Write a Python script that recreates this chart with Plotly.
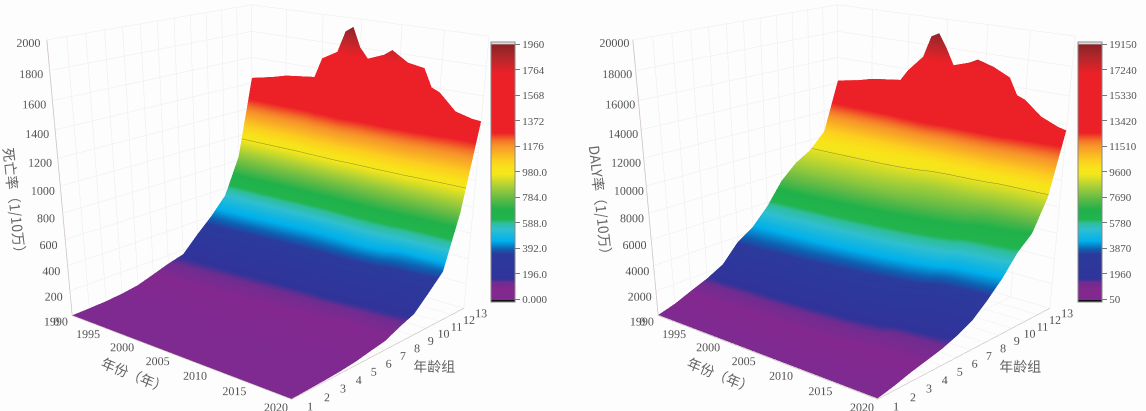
import plotly.graph_objects as go

YEARS = [1990,1993,1995,1999,2000,2002,2003,2004,2005,2006,2008,2009,2011,2013,2014,2015,2017,2019,2020]
AGES = list(range(1, 14))

DEATH = [
 [2,2,2,2,2,2,2,2,2,2,2,2,2,2,2,2,2,2,2],
 [6,6,6,6,6,6,6,6,6,6,5,5,5,5,5,5,5,5,5],
 [12,12,12,12,12,12,11,11,11,11,11,11,10,10,10,10,10,9,9],
 [25,25,24,24,24,23,23,23,22,22,21,21,20,19,18,18,17,16,16],
 [46,45,45,44,43,42,42,41,40,39,38,37,35,33,31,30,29,28,28],
 [88,86,84,80,78,76,75,74,72,70,68,66,64,60,57,56,54,52,50],
 [131,128,124,118,116,112,110,108,106,104,100,98,94,88,83,80,76,73,70],
 [165,165,163,160,158,156,154,152,150,148,146,145,142,136,132,130,128,125,123],
 [290,280,270,255,250,240,236,232,228,224,220,218,214,205,196,190,182,174,167],
 [405,400,392,380,375,368,364,360,358,355,352,350,345,330,315,308,298,288,278],
 [540,535,528,510,505,495,490,488,490,495,505,512,515,490,450,435,420,405,394],
 [830,825,820,810,808,805,805,805,806,808,810,812,815,812,806,804,802,800,800],
 [1440,1475,1505,1532,1680,1745,1900,1940,1800,1730,1775,1817,1745,1725,1600,1574,1461,1430,1425],
]

DALY = [
 [50,50,50,50,50,50,50,50,50,50,50,50,50,50,50,50,50,50,50],
 [440,435,430,420,415,410,405,400,395,390,385,380,370,360,350,345,340,335,330],
 [1000,980,960,930,920,900,890,880,870,860,840,830,800,770,740,730,720,705,690],
 [1520,1490,1460,1420,1400,1370,1350,1340,1320,1300,1270,1250,1200,1130,1060,1040,1020,990,970],
 [2200,2170,2130,2070,2040,1990,1960,1940,1910,1880,1820,1790,1700,1590,1450,1400,1350,1300,1260],
 [3580,3500,3400,3260,3200,3100,3050,3000,2960,2900,2800,2740,2600,2380,2120,2040,1900,1780,1700],
 [4400,4350,4280,4150,4100,3980,3920,3860,3800,3730,3600,3520,3340,3080,2750,2620,2480,2360,2280],
 [5700,5600,5500,5330,5270,5150,5080,5020,4950,4880,4750,4650,4450,4150,3800,3650,3500,3370,3280],
 [7400,7300,7150,6950,6870,6720,6650,6580,6500,6400,6200,6100,5850,5500,5100,4900,4750,4580,4430],
 [8500,8450,8380,8250,8200,8100,8020,7950,7850,7720,7500,7380,7150,6850,6500,6350,6200,6020,5880],
 [9200,9180,9150,9080,9050,8980,8900,8820,8700,8500,8350,8300,8200,7950,7650,7500,7300,7050,6850],
 [10400,10380,10350,10280,10250,10180,10100,10000,9900,9700,9600,9580,9550,9450,9300,9250,9200,9150,9100],
 [14200,14500,14800,15100,15900,17100,18650,18950,18000,16830,17200,17500,17150,16600,15450,15220,14250,13750,13600],
]

DEATH_TICKS = [0,196,392,588,784,980,1176,1372,1568,1764,1960]
DEATH_TICKTEXT = ["0.000","196.0","392.0","588.0","784.0","980.0","1176","1372","1568","1764","1960"]
DALY_TICKS = [50,1960,3870,5780,7690,9600,11510,13420,15330,17240,19150]
DALY_TICKTEXT = [str(v) for v in DALY_TICKS]
Z_TICKS_1 = list(range(0, 2001, 200))
Z_TICKS_2 = list(range(0, 20001, 2000))
YEAR_TICKS = [1990,1995,2000,2005,2010,2015,2020]

STOPS = [
 (0.000,"#111111"),(0.006,"#111111"),(0.0075,"#7e2a90"),(0.05,"#84288f"),(0.075,"#702c90"),
 (0.088,"#30349a"),(0.184,"#2c3a9c"),(0.203,"#0f5fb0"),(0.234,"#00b0ec"),(0.279,"#2fbfd0"),(0.304,"#2ebd9a"),
 (0.317,"#22b44e"),(0.355,"#20b14a"),(0.394,"#5cb947"),(0.444,"#a8cf38"),(0.49,"#f3e61c"),(0.515,"#f8e31a"),(0.545,"#fcce1f"),
 (0.60,"#f7952a"),(0.621,"#f37328"),(0.65,"#ec2127"),(0.878,"#ec2127"),(0.94,"#b3272b"),(0.99,"#8a2225"),(0.991,"#c8c8c8"),(1.0,"#f6f6f6"),
]
COLORSCALE = [[p, c] for p, c in STOPS]

FIG_H = 1400
SCENE_H = 950
SERIF = "Liberation Serif, Noto Serif CJK SC, serif"
CJK = "Noto Sans CJK SC, Liberation Serif"
INK = "#555555"

def axis(title, tickvals, rng, ticktext=None):
    return dict(
        title=dict(text=title, font=dict(family=CJK, size=14, color="#666666")),
        tickmode="array", tickvals=tickvals, ticktext=ticktext or [str(v) for v in tickvals], range=rng,
        tickfont=dict(family=SERIF, size=12, color=INK), tickangle=0,
        showgrid=True, gridcolor="#ececec", gridwidth=1,
        showline=True, linecolor="#c9bdb8", linewidth=1.5,
        showbackground=False, zeroline=False, showspikes=False,
        ticks="outside", ticklen=0,
    )

def panel(name, z, ztitle, zticks, zrange, ticks, ticktext, cmin, cmax, cbx, level, step, dom):
    trace = go.Surface(
        x=YEARS, y=AGES, z=z, scene=name, cmin=cmin, cmax=cmax, colorscale=COLORSCALE,
        lighting=dict(ambient=1, diffuse=0, specular=0, roughness=1, fresnel=0),
        contours=dict(z=dict(show=True, start=level, end=level + step, size=step * 4, color="#8a8a30", width=1)),
        hoverinfo="skip",
        colorbar=dict(x=cbx, xanchor="left", xref="paper", y=1 - 171.7 / FIG_H, yanchor="middle", yref="paper",
                      len=260, lenmode="pixels", thickness=24, thicknessmode="pixels",
                      tickmode="array", tickvals=ticks, ticktext=ticktext,
                      tickfont=dict(family=SERIF, size=11, color=INK),
                      ticks="outside", ticklen=5, tickcolor="#777777",
                      outlinecolor="#888888", outlinewidth=1, xpad=0, ypad=0),
    )
    scene = dict(
        domain=dict(x=dom, y=[1 - SCENE_H / FIG_H, 1]),
        xaxis=axis("年份（年）", YEAR_TICKS, [1990, 2020]),
        yaxis=axis("年龄组", AGES, [1, 13]),
        zaxis=axis(ztitle, zticks, zrange),
        aspectmode="manual", aspectratio=dict(x=1.137, y=1.086, z=1.04),
        camera=dict(eye=dict(x=2.807, y=-3.256, z=1.235), up=dict(x=0, y=0, z=1),
                    center=dict(x=0.298, y=-0.359, z=-1.005)),
        bgcolor="rgba(0,0,0,0)",
    )
    return trace, scene

t1, s1 = panel("scene", DEATH, "死亡率（1/10万）", Z_TICKS_1, [0, 2000], DEATH_TICKS, DEATH_TICKTEXT, -18, 1980, 491/1146, 970, 1, [0, 534/1146])
t2, s2 = panel("scene2", DALY, "DALY率（1/10万）", Z_TICKS_2, [0, 20000], DALY_TICKS, DALY_TICKTEXT, -130, 19350, 1078/1146, 9300, 5, [563/1146, 1143/1146])

fig = go.Figure([t1, t2])
fig.update_layout(scene=s1, scene2=s2, width=1146, height=FIG_H, margin=dict(l=0, r=0, t=0, b=0),
                  paper_bgcolor="#fdfdfd", showlegend=False)
fig.write_html("out.html", config=dict(displayModeBar=False),
               post_script="document.body.style.margin='0';document.body.style.overflow='hidden';document.documentElement.style.overflow='hidden';")
